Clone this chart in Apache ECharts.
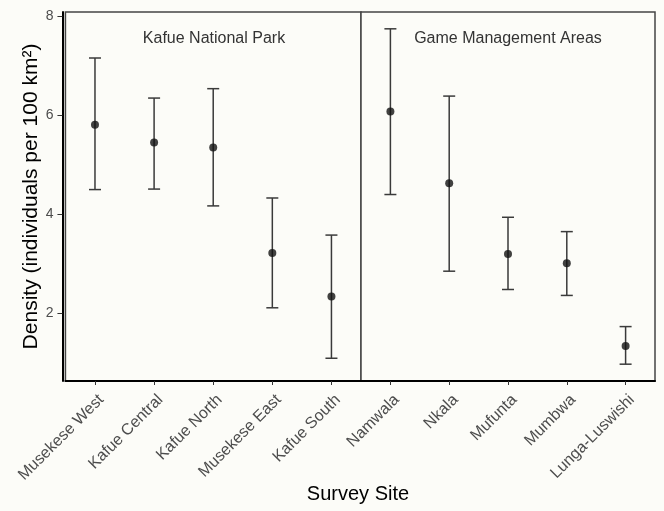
<!DOCTYPE html>
<html>
<head>
<meta charset="utf-8">
<script src="https://cdn.jsdelivr.net/npm/echarts@6/dist/echarts.min.js"></script>
<style>
html,body{margin:0;padding:0;background:#fcfcf8;}
#chart{width:664px;height:511px;}
</style>
</head>
<body>
<div id="chart"></div>
<script>
const kafueSites = ['Musekese West','Kafue Central','Kafue North','Musekese East','Kafue South'];
const kafueDensity = [5.81,5.45,5.35,3.22,2.34];
const kafueLower = [4.50,4.51,4.17,2.11,1.09];
const kafueUpper = [7.16,6.35,6.54,4.33,3.58];
const gmaSites = ['Namwala','Nkala','Mufunta','Mumbwa','Lunga-Luswishi'];
const gmaDensity = [6.08,4.63,3.20,3.01,1.34];
const gmaLower = [4.40,2.85,2.48,2.36,0.97];
const gmaUpper = [7.75,6.39,3.94,3.65,1.73];
const yTicks = [2,4,6,8];
const panelTitles = ['Kafue National Park','Game Management Areas'];
const yTitle = 'Density (individuals per 100 km²)';
const xTitle = 'Survey Site';

const FONT = 'Liberation Sans, Arial, sans-serif';
const chart = echarts.init(document.getElementById('chart'), null, {renderer:'canvas'});

function errRender(params, api){
  const x = api.value(0), lo = api.value(1), hi = api.value(2);
  const pLo = api.coord([x, lo]);
  const pHi = api.coord([x, hi]);
  const w = 6;
  const st = {stroke:'#3a3a3a', lineWidth:1.5};
  return {type:'group', children:[
    {type:'line', shape:{x1:pLo[0],y1:pLo[1],x2:pHi[0],y2:pHi[1]}, style:st},
    {type:'line', shape:{x1:pHi[0]-w,y1:pHi[1],x2:pHi[0]+w,y2:pHi[1]}, style:st},
    {type:'line', shape:{x1:pLo[0]-w,y1:pLo[1],x2:pLo[0]+w,y2:pLo[1]}, style:st}
  ]};
}

const yMin = 0.63, yMax = 8.09;
function yAxis(idx, showLabels){
  return {
    type:'value', gridIndex:idx, min:yMin, max:yMax,
    splitLine:{show:false},
    axisLine:{show:showLabels, onZero:false, lineStyle:{color:'#000', width:2}},
    offset: showLabels ? 3 : 0,
    axisTick:{show:showLabels, length:5, customValues:yTicks, lineStyle:{color:'#333'}},
    axisLabel:{show:showLabels, customValues:yTicks, color:'#4d4d4d', fontSize:14, fontFamily:FONT, margin:9},
    name: showLabels ? yTitle : '',
    nameLocation:'middle', nameGap:17,
    nameTextStyle:{color:'#000', fontSize:21, fontFamily:FONT}
  };
}
function xAxis(idx, cats){
  return {
    type:'category', gridIndex:idx, data:cats, boundaryGap:true,
    axisLine:{show:true, onZero:false, lineStyle:{color:'#000', width:2}},
    axisTick:{show:true, alignWithLabel:true, interval:0, length:4, lineStyle:{color:'#333'}},
    axisLabel:{interval:0, rotate:45, color:'#4d4d4d', fontSize:16, fontFamily:FONT, margin:10,
      lineHeight:18, formatter:function(v){ return '\n' + v; }},
    splitLine:{show:false}
  };
}

const option = {
  backgroundColor:'#fcfcf8',
  animation:false,
  grid:[
    {left:64, top:12, width:297, height:369, show:true, borderColor:'#444', borderWidth:1.5, backgroundColor:'#fcfcf8'},
    {left:361, top:12, width:294, height:369, show:true, borderColor:'#444', borderWidth:1.5, backgroundColor:'#fcfcf8'}
  ],
  xAxis:[xAxis(0, kafueSites), xAxis(1, gmaSites)],
  yAxis:[yAxis(0, true), yAxis(1, false)],
  series:[
    {type:'custom', xAxisIndex:0, yAxisIndex:0, renderItem:errRender,
     data:kafueSites.map((s,i)=>[i, kafueLower[i], kafueUpper[i]]), z:2},
    {type:'custom', xAxisIndex:1, yAxisIndex:1, renderItem:errRender,
     data:gmaSites.map((s,i)=>[i, gmaLower[i], gmaUpper[i]]), z:2},
    {type:'scatter', xAxisIndex:0, yAxisIndex:0, symbol:'circle', symbolSize:8,
     itemStyle:{color:'#111'}, data:kafueSites.map((s,i)=>[i, kafueDensity[i]]), z:3},
    {type:'scatter', xAxisIndex:1, yAxisIndex:1, symbol:'circle', symbolSize:8,
     itemStyle:{color:'#111'}, data:gmaSites.map((s,i)=>[i, gmaDensity[i]]), z:3}
  ],
  graphic:[
    {type:'text', x:214, y:39, style:{text:panelTitles[0], fill:'#333', font:'16px '+FONT, textAlign:'center', textVerticalAlign:'middle'}},
    {type:'text', x:508, y:39, style:{text:panelTitles[1], fill:'#333', font:'16px '+FONT, textAlign:'center', textVerticalAlign:'middle'}},
    {type:'text', x:358, y:494, style:{text:xTitle, fill:'#000', font:'20px '+FONT, textAlign:'center', textVerticalAlign:'middle'}}
  ]
};
chart.setOption(option);
</script>
</body>
</html>
